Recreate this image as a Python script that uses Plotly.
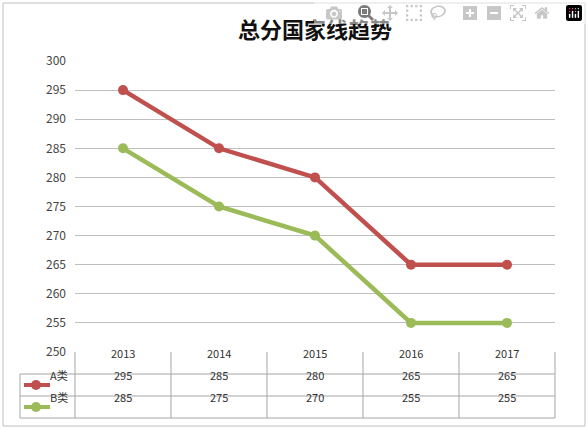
import plotly.graph_objects as go

years = ["2013", "2014", "2015", "2016", "2017"]
series_names = ["A类", "B类"]
a_vals = [295, 285, 280, 265, 265]
b_vals = [285, 275, 270, 255, 255]
colors = ["#C0504D", "#9BBB59"]

W, H = 588, 429
L, R, T, B = 75, 33, 61, 77
pw, ph = W - L - R, H - T - B
row = 22

def px(x):
    return (x - L) / pw
def py(y):
    return (H - B - y) / ph

fig = go.Figure()
xs = list(range(len(years)))
for name, vals, c in zip(series_names, [a_vals, b_vals], colors):
    fig.add_trace(go.Scatter(x=xs, y=vals, name=name, mode="lines+markers",
                             line=dict(color=c, width=4.5),
                             marker=dict(size=10, color=c), showlegend=False))

shapes, ann = [], []
lc = "#A6A6A6"
bottom = H - B
for i in range(1, 4):
    y = bottom + i * row
    shapes.append(dict(type="line", xref="paper", yref="paper", x0=px(20), x1=1,
                       y0=py(y), y1=py(y), line=dict(color=lc, width=1)))
for j in range(len(years) + 1):
    x = L + j * pw / len(years)
    shapes.append(dict(type="line", xref="paper", yref="paper", x0=px(x), x1=px(x),
                       y0=py(bottom), y1=py(bottom + 3 * row), line=dict(color=lc, width=1)))
shapes.append(dict(type="line", xref="paper", yref="paper", x0=px(20), x1=px(20),
                   y0=py(bottom + row), y1=py(bottom + 3 * row), line=dict(color=lc, width=1)))
for j, yr in enumerate(years):
    ann.append(dict(x=j, y=py(bottom + row / 2), xref="x", yref="paper",
                    text=yr, showarrow=False, font=dict(size=11, color="#333")))
for r, (name, vals, c) in enumerate(zip(series_names, [a_vals, b_vals], colors)):
    cy = bottom + (r + 1.5) * row
    for j, v in enumerate(vals):
        ann.append(dict(x=j, y=py(cy), xref="x", yref="paper",
                        text=str(v), showarrow=False, font=dict(size=11, color="#333")))
    shapes.append(dict(type="line", xref="paper", yref="paper", x0=px(24), x1=px(50),
                       y0=py(cy), y1=py(cy), line=dict(color=c, width=4)))
    shapes.append(dict(type="circle", xref="paper", yref="paper", x0=px(31), x1=px(41),
                       y0=py(cy + 5), y1=py(cy - 5), fillcolor=c, line=dict(color=c, width=0)))
    ann.append(dict(x=px(48), y=py(cy), xref="paper", yref="paper", xanchor="left",
                    text=name, showarrow=False, font=dict(size=11, color="#333")))
shapes.append(dict(type="rect", xref="paper", yref="paper", x0=px(3), x1=px(W - 3),
                   y0=py(H - 3), y1=py(3), line=dict(color="#BFBFBF", width=1)))

fig.update_layout(
    width=W, height=H, margin=dict(l=L, r=R, t=T, b=B),
    paper_bgcolor="white", plot_bgcolor="white",
    title=dict(text="<b>总分国家线趋势</b>", x=0.5, xref="paper", y=1 - 30 / H, yanchor="middle",
               font=dict(family="Noto Sans CJK SC", size=22, color="#111")),
    xaxis=dict(range=[-0.5, 4.5], showticklabels=False, showgrid=False, zeroline=False, ticks=""),
    yaxis=dict(range=[250, 300], dtick=5, showgrid=True, gridcolor="#BFBFBF", zeroline=False,
               tickfont=dict(size=12, color="#444"), ticks="", ticklabelstandoff=8),
    font=dict(family="Noto Sans CJK SC"),
    shapes=shapes, annotations=ann,
)
fig.write_html("out.html", post_script="document.body.style.margin='0';document.body.style.overflow='hidden';")
